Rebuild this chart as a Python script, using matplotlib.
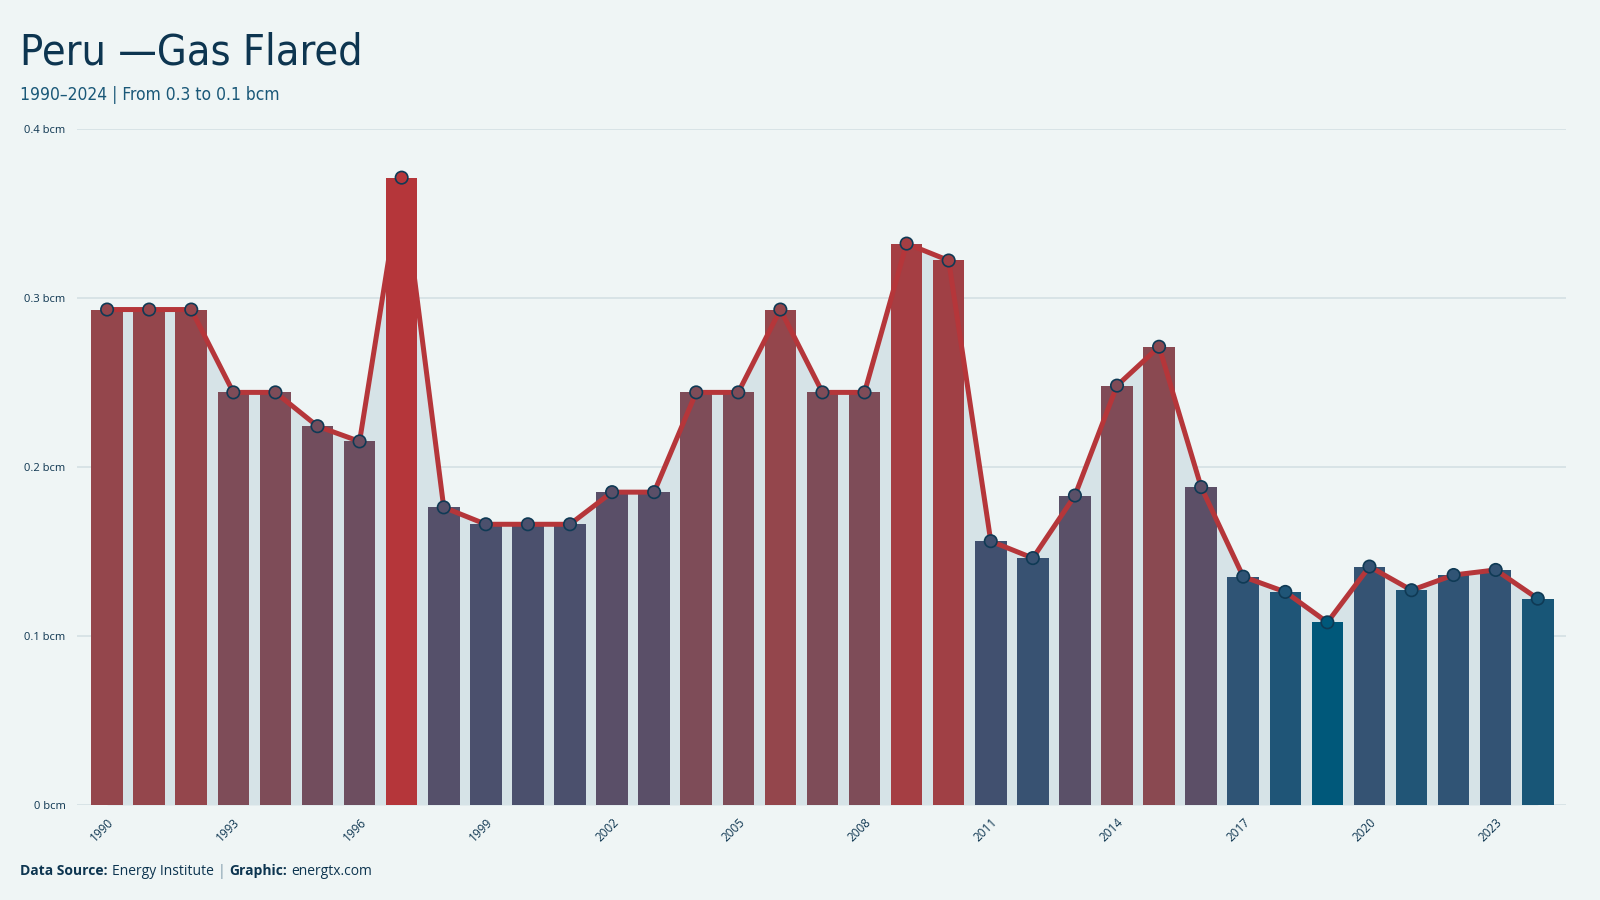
import numpy as np
import matplotlib.pyplot as plt
from matplotlib.colors import LinearSegmentedColormap
from matplotlib import font_manager

# Dados: gás queimado no Peru (bcm)
years = list(range(1990, 2025))
values = [0.293, 0.293, 0.293, 0.244, 0.244, 0.224, 0.215, 0.371, 0.176, 0.166,
          0.166, 0.166, 0.185, 0.185, 0.244, 0.244, 0.293, 0.244, 0.244, 0.332,
          0.322, 0.156, 0.146, 0.183, 0.248, 0.271, 0.188, 0.135, 0.126, 0.108,
          0.141, 0.127, 0.136, 0.139, 0.122]
ytick_vals = [0, 0.1, 0.2, 0.3, 0.4]
ytick_labels = ['0 bcm', '0.1 bcm', '0.2 bcm', '0.3 bcm', '0.4 bcm']
xtick_years = list(range(1990, 2025, 3))

title = 'Peru —Gas Flared'
subtitle = '1990–2024 | From 0.3 to 0.1 bcm'

BG = '#eff5f5'
NAVY = '#0d3550'
RED = '#b5363a'

# procura uma fonte estreita (condensed) entre as instaladas
cond = [f for f in font_manager.fontManager.ttflist
        if f.stretch in ('condensed', 'semi-condensed', 'extra-condensed', 600, 700)
        or 'Narrow' in f.name or 'Condensed' in f.name]
if cond:
    narrow = cond[0].name
    stretch = cond[0].stretch
    tsize, ssize = 31, 12.5
else:
    narrow, stretch = 'Roboto', 'normal'
    tsize, ssize = 27, 12
body = 'Open Sans'

# escala de cor azul -> vermelho
cmap = LinearSegmentedColormap.from_list('gas', [
    (0.0, '#00587a'), (0.10, '#2f5475'), (0.184, '#42506f'), (0.257, '#55506a'),
    (0.516, '#7e4c58'), (0.704, '#94464c'), (1.0, '#b5363a')])
v = np.array(values)
norm = (v - v.min()) / (v.max() - v.min())
colors = [cmap(t) for t in norm]

fig = plt.figure(figsize=(16, 9), dpi=100, facecolor=BG)
ax = fig.add_axes([0.048, 0.1056, 0.931, 0.7515], facecolor=BG)

# área sob a linha
ax.fill_between(years, values, 0, color='#d6e3e7', zorder=1, linewidth=0)
# barras
ax.bar(years, values, width=0.75, color=colors, zorder=2)
# linha e marcadores
ax.plot(years, values, color=RED, linewidth=3.6, zorder=3, solid_capstyle='round')
ax.scatter(years, values, s=80, c=colors, edgecolors='#0f3a55', linewidths=1.2, zorder=4)

ax.set_ylim(0, 0.4)
ax.set_xlim(1989.28, 2024.68)
ax.set_yticks(ytick_vals)
ax.set_yticklabels(ytick_labels, fontsize=8, color=NAVY, family=body)
ax.set_xticks(xtick_years)
ax.set_xticklabels([str(y) for y in xtick_years], rotation=45, ha='right',
                   rotation_mode='anchor', fontsize=8.5, color=NAVY, family=body)
ax.tick_params(length=0, pad=8)
ax.tick_params(axis='x', pad=8)
ax.grid(axis='y', color='#d6e2e5', linewidth=1.3, zorder=0)
ax.set_axisbelow(True)
for s in ax.spines.values():
    s.set_visible(False)

# títulos
fig.text(0.0128, 0.928, title, fontsize=tsize, color=NAVY, family=narrow,
         fontstretch=stretch, va='baseline')
fig.text(0.0128, 0.889, subtitle, fontsize=ssize, color='#1a5878', family=narrow,
         fontstretch=stretch, va='baseline')

# rodapé
y_f = 0.028
t1 = fig.text(0.0128, y_f, 'Data Source:', fontsize=10, weight='bold', color=NAVY, family=body, va='baseline')
fig.canvas.draw()
r = fig.canvas.get_renderer()
def after(t, gap=4):
    bb = t.get_window_extent(renderer=r)
    return (bb.x1 + gap) / fig.bbox.width
t2 = fig.text(after(t1), y_f, 'Energy Institute', fontsize=10, color=NAVY, family=body, va='baseline')
t3 = fig.text(after(t2), y_f, '|', fontsize=10, color='#7f9aaa', family=body, va='baseline')
t4 = fig.text(after(t3), y_f, 'Graphic:', fontsize=10, weight='bold', color=NAVY, family=body, va='baseline')
t5 = fig.text(after(t4), y_f, 'energtx.com', fontsize=10, color=NAVY, family=body, va='baseline')

fig.savefig('out.png', dpi=100, facecolor=BG)
